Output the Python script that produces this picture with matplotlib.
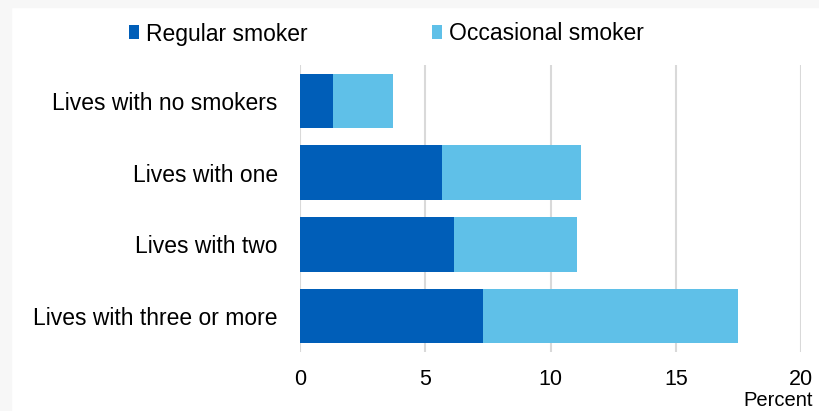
import numpy as np
import matplotlib.pyplot as plt
from matplotlib.patches import Rectangle

plt.rcParams['font.family'] = ['Liberation Sans', 'DejaVu Sans']

# data, top to bottom as in the chart
categories = ["Lives with no smokers", "Lives with one", "Lives with two", "Lives with three or more"]
regular = [1.3, 5.65, 6.15, 7.3]
occasional = [2.4, 5.55, 4.9, 10.2]
xticks = [0, 5, 10, 15, 20]

W, H = 819, 411
fig = plt.figure(figsize=(W / 100, H / 100), dpi=100)
fig.patch.set_facecolor('white')

# light grey frame strips on the top and left edge
fig.patches.append(Rectangle((0, 1 - 7 / H), 1, 7 / H, transform=fig.transFigure,
                             color='#f7f7f7', zorder=0))
fig.patches.append(Rectangle((0, 0), 11 / W, 1, transform=fig.transFigure,
                             color='#f7f7f7', zorder=0))

ax = fig.add_axes([300 / W, 1 - 352 / H, 501 / W, 287 / H])
ax.set_facecolor('none')

y = np.arange(len(categories))
h1 = ax.barh(y, regular, height=0.76, color='#005EB8', label='Regular smoker', zorder=3)
h2 = ax.barh(y, occasional, left=regular, height=0.76, color='#5FC0E8',
             label='Occasional smoker', zorder=3)

ax.set_ylim(len(categories) - 0.5, -0.5)
ax.set_xlim(0, 20)
ax.set_yticks(y)
ax.set_yticklabels(categories, fontsize=16.5)
ax.set_xticks(xticks)
ax.set_xticklabels([str(t) for t in xticks], fontsize=15.5)
ax.tick_params(axis='y', length=0, pad=16)
ax.tick_params(axis='x', length=0, pad=12)
ax.grid(axis='x', color='#d9d9d9', linewidth=1.5, zorder=0)
for s in ax.spines.values():
    s.set_visible(False)

fig.text(813 / W, 1 / H, 'Percent', ha='right', va='bottom', fontsize=14.5)

fig.legend(handles=[h1, h2], loc='center left', bbox_to_anchor=(129 / W, 1 - 34 / H),
           ncol=2, frameon=False, fontsize=16.5, handlelength=0.45, handleheight=0.55,
           handletextpad=0.3, columnspacing=5.4, borderaxespad=0, borderpad=0)

fig.savefig('out.png', dpi=100)
